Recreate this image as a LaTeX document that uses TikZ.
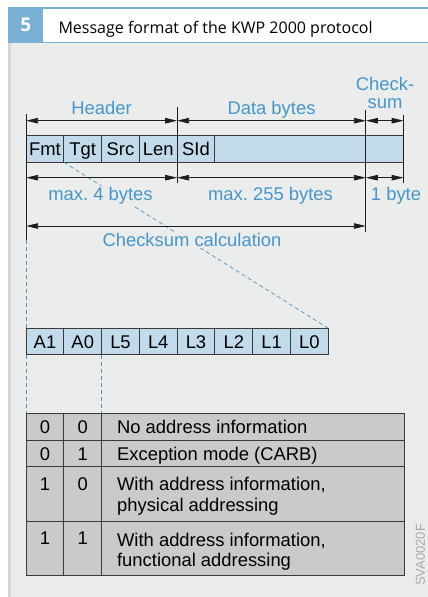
\documentclass[tikz,border=0pt]{standalone}
\usepackage{fontspec}
\setmainfont{Liberation Sans}
\newfontfamily\titlefont{Open Sans}
\usetikzlibrary{arrows.meta,positioning,calc}
\frenchspacing
\definecolor{kwInk}{HTML}{1E1E1E}
\definecolor{kwEdge}{HTML}{3A3A3A}
\definecolor{kwBlue}{HTML}{4596CA}
\definecolor{kwBand}{HTML}{78AFD5}
\definecolor{kwPanel}{HTML}{EBECEC}
\definecolor{kwRule}{HTML}{D6D7D7}
\definecolor{kwCell}{HTML}{C2DBEA}
\definecolor{kwTable}{HTML}{C9CACB}
\definecolor{kwCode}{HTML}{ABABAB}
\tikzset{
  txt/.style={font=\fontsize{18.4}{18.6}\selectfont},
  cellbox/.style={txt, draw=kwEdge, fill=kwCell, line width=0.9pt, minimum width=37.75pt, minimum height=26.6pt, inner sep=0pt, outer sep=0pt, text height=13pt, text depth=0pt},
  tcell/.style={cellbox, fill=kwTable},
  tcellhi/.style={tcell, text depth=19.5pt},
  tabtxt/.style={txt, anchor=west, inner sep=0pt, text height=13pt, text depth=0pt},
  tabtxtii/.style={font=\fontsize{18.4}{20.8}\selectfont, anchor=north west, inner sep=0pt, align=left},
  lbl/.style={txt, text=kwBlue, inner sep=0pt},
  lblgap/.style={lbl, fill=kwPanel, inner sep=1.5pt},
  dim/.style={{Triangle[length=12pt,width=5.5pt]}-{Triangle[length=12pt,width=5.5pt]}, line width=0.8pt, draw=kwInk},
  tick/.style={line width=0.8pt, draw=kwInk},
  guide/.style={draw=kwBlue, line width=0.7pt, dash pattern=on 4pt off 3pt},
  numbox/.style={fill=kwBand, minimum width=35pt, minimum height=34.1pt, inner sep=0pt, text=white, font=\titlefont\bfseries\fontsize{19}{19}\selectfont},
}
\begin{document}
\begin{tikzpicture}[x=1pt,y=-1pt]
\useasboundingbox (0,0) rectangle (428,597);
\fill[white] (0,0) rectangle (428,597);
\fill[kwPanel] (8.3,43.3) rectangle (428,597);
\fill[kwRule] (8.3,43.3) rectangle (10.6,597);
\fill[kwBand] (8.3,7.4) rectangle (428,9);
\fill[kwBand] (8.3,41.7) rectangle (428,43.3);
\node[numbox] (num) at (25.8,24.55) {5};
\node[anchor=base west, font=\titlefont\fontsize{16}{18}\selectfont] (title) at (55,33.3) {Message format of the KWP 2000 protocol};

\node[cellbox] (fmt) at (45,149) {Fmt};
\node[cellbox, right=0pt of fmt] (tgt) {Tgt};
\node[cellbox, right=0pt of tgt] (src) {Src};
\node[cellbox, right=0pt of src] (len) {Len};
\node[cellbox, right=0pt of len] (sid) {SId};
\node[cellbox, right=0pt of sid, minimum width=151pt] (data) {};
\node[cellbox, right=0pt of data] (chk) {};

\node[cellbox] (a1) at (45,341.5) {A1};
\node[cellbox, right=0pt of a1] (a0) {A0};
\node[cellbox, right=0pt of a0] (l5) {L5};
\node[cellbox, right=0pt of l5] (l4) {L4};
\node[cellbox, right=0pt of l4] (l3) {L3};
\node[cellbox, right=0pt of l3] (l2) {L2};
\node[cellbox, right=0pt of l2] (l1) {L1};
\node[cellbox, right=0pt of l1] (l0) {L0};

\node[tcell, minimum height=27.4pt] (r1c1) at (45,427) {0};
\node[tcell, minimum height=27.4pt, right=0pt of r1c1] (r1c2) {0};
\node[tcell, minimum height=27.4pt, minimum width=302.4pt, right=0pt of r1c2] (r1c3) {};
\node[tcell, minimum height=26pt, below=0pt of r1c1] (r2c1) {0};
\node[tcell, minimum height=26pt, right=0pt of r2c1] (r2c2) {1};
\node[tcell, minimum height=26pt, minimum width=302.4pt, right=0pt of r2c2] (r2c3) {};
\node[tcellhi, minimum height=54.3pt, below=0pt of r2c1] (r3c1) {1};
\node[tcellhi, minimum height=54.3pt, right=0pt of r3c1] (r3c2) {0};
\node[tcell, minimum height=54.3pt, minimum width=302.4pt, right=0pt of r3c2] (r3c3) {};
\node[tcellhi, minimum height=54pt, below=0pt of r3c1] (r4c1) {1};
\node[tcellhi, minimum height=54pt, right=0pt of r4c1] (r4c2) {1};
\node[tcell, minimum height=54pt, minimum width=302.4pt, right=0pt of r4c2] (r4c3) {};
\node[tabtxt] (t1) at ($(r1c3.west)+(15.3,0)$) {No address information};
\node[tabtxt] (t2) at ($(r2c3.west)+(15.3,0)$) {Exception mode (CARB)};
\node[tabtxtii] (t3) at ($(r3c3.north west)+(15.3,10.5)$) {With address information,\\physical addressing};
\node[tabtxtii] (t4) at ($(r4c3.north west)+(15.3,11.5)$) {With address information,\\functional addressing};

\path (fmt.north west) ++(0,-15) coordinate (hdrA)
      (len.north east) ++(0,-15) coordinate (hdrB)
      (chk.north west) ++(0,-15) coordinate (hdrC)
      (chk.north east) ++(0,-15) coordinate (hdrD)
      (fmt.south west) ++(0,15.4) coordinate (lenA)
      (len.south east) ++(0,15.4) coordinate (lenB)
      (chk.south west) ++(0,15.4) coordinate (lenC)
      (chk.south east) ++(0,15.4) coordinate (lenD)
      (fmt.south west) ++(0,63.7) coordinate (sumA)
      (chk.south west) ++(0,63.7) coordinate (sumB)
      (fmt.south west) ++(0,78) coordinate (tickEnd);

\draw[guide] (fmt.south east) -- (l0.north east);
\draw[guide] (tickEnd) -- (a1.north west);
\draw[guide] (a1.south west) -- (r1c1.north west);
\draw[guide] (a0.south east) -- (r1c2.north east);

\draw[tick] ($(fmt.north west)+(0,-22)$) -- (tickEnd);
\draw[tick] ($(len.north east)+(0,-29)$) -- ($(len.south east)+(0,21)$);
\draw[tick] ($(chk.north west)+(0,-26)$) -- ($(chk.south west)+(0,70)$);
\draw[tick] ($(chk.north east)+(0,-21)$) -- ($(chk.south east)+(0,21)$);

\draw[dim] (hdrA) -- (hdrB); \draw[dim] (hdrB) -- (hdrC); \draw[dim] (hdrC) -- (hdrD);
\draw[dim] (lenA) -- (lenB); \draw[dim] (lenB) -- (lenC); \draw[dim] (lenC) -- (lenD);

\node[lbl, anchor=base] (hdr) at (101.5,114) {Header};
\node[lbl, anchor=base] (dat) at (271.5,114) {Data bytes};
\node[lbl, anchor=south, align=center] (cks) at (385,109.3) {Check-\\sum};
\node[lblgap, anchor=base] (m4) at (100.5,200.7) {max. 4 bytes};
\node[lbl, anchor=base] (m255) at (270.5,200.7) {max. 255 bytes};
\node[lbl, anchor=base] (m1) at (396,200.7) {1 byte};
\node[lblgap, anchor=base] (calc) at (192,246.7) {Checksum calculation};
\draw[dim] (sumA) -- (sumB);

\node[rotate=90, text=kwCode, font=\fontsize{13}{13}\selectfont, inner sep=0pt] (code) at (420.5,555) {SVA0020F};
\end{tikzpicture}
\end{document}
